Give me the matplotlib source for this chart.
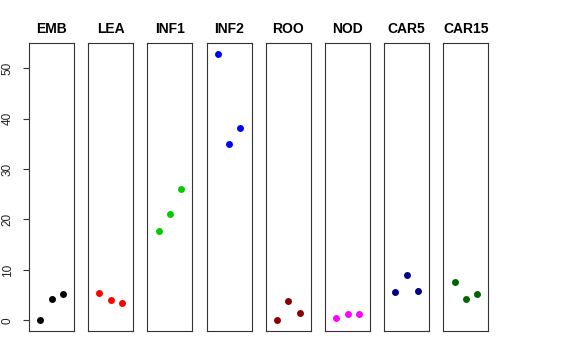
import numpy as np
import matplotlib.pyplot as plt

plt.rcParams['font.family'] = ['Liberation Sans', 'DejaVu Sans']

# panel names, colours and the three values per panel
groups = ['EMB', 'LEA', 'INF1', 'INF2', 'ROO', 'NOD', 'CAR5', 'CAR15']
colors = ['black', 'red', '#00CD00', 'blue', '#8B0000', 'magenta', '#000080', '#006400']
values = [
    [0.0, 4.2, 5.3],
    [5.4, 4.0, 3.4],
    [17.8, 21.1, 26.0],
    [52.9, 34.9, 38.2],
    [0.0, 3.8, 1.5],
    [0.4, 1.25, 1.25],
    [5.6, 8.9, 5.8],
    [7.5, 4.2, 5.2],
]
yticks = [0, 10, 20, 30, 40, 50]

W, H = 576, 360
fig = plt.figure(figsize=(W / 100, H / 100), dpi=100)

left0, step, pw = 29, 59.2, 45
top, bottom = 43, 331

for i, (name, col, vals) in enumerate(zip(groups, colors, values)):
    x0 = left0 + i * step
    ax = fig.add_axes([x0 / W, (H - bottom) / H, pw / W, (bottom - top) / H])
    ax.plot([1, 2, 3], vals, 'o', color=col, markersize=5, markeredgewidth=0)
    ax.set_xlim(0, 4)
    ax.set_ylim(-2.12, 55.0)
    ax.set_xticks([])
    for sp in ax.spines.values():
        sp.set_linewidth(0.8)
        sp.set_color('#333333')
    ax.set_title(name, fontsize=10, fontweight='bold', pad=7)
    if i == 0:
        ax.set_yticks(yticks)
        ax.set_yticklabels([str(t) for t in yticks], rotation=90, va='center',
                           fontsize=8.5, color='#222222')
        ax.tick_params(axis='y', length=4, width=0.8, color='#333333', pad=7)
    else:
        ax.set_yticks([])

fig.savefig('out.png', dpi=100)
